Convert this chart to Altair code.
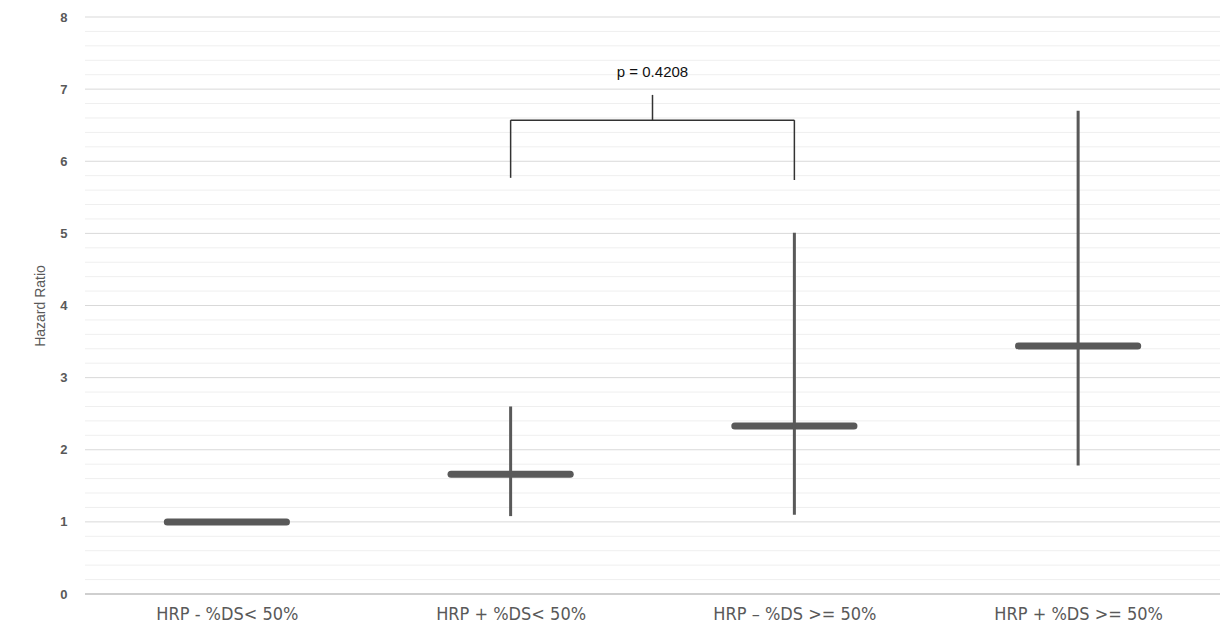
import altair as alt
import pandas as pd

categories = ["HRP - %DS< 50%", "HRP + %DS< 50%", "HRP \u2013 %DS  >= 50%", "HRP + %DS >= 50%"]
hazard_ratio = [1.0, 1.66, 2.33, 3.44]
ci_lower = [None, 1.08, 1.10, 1.78]
ci_upper = [None, 2.60, 5.01, 6.70]

# significance bracket between categories 2 and 3
bracket_from = 1
bracket_to = 2
bracket_top = 6.57
bracket_left_bottom = 5.77
bracket_right_bottom = 5.74
bracket_tick_top = 6.92
p_label = "p = 0.4208"
p_label_y = 7.24

# axis ticks / gridlines
major_ticks = [0, 1, 2, 3, 4, 5, 6, 7, 8]
minor_ticks = [i / 5 for i in range(41) if i % 5 != 0]

half = 0.21

df = pd.DataFrame({
    "cat": categories,
    "hr": hazard_ratio,
    "lo": ci_lower,
    "hi": ci_upper,
})
df["pos"] = [i + 0.5 for i in range(len(categories))]
df["x1"] = df["pos"] - half
df["x2"] = df["pos"] + half

label_map = "{" + ",".join(f"'{i + 0.5}': '{c}'" for i, c in enumerate(categories)) + "}"

x_scale = alt.Scale(domain=[0, 4], nice=False, zero=False)
y_scale = alt.Scale(domain=[0, 8], nice=False)

x_axis = alt.Axis(
    values=[i + 0.5 for i in range(len(categories))],
    labelExpr=label_map + "[toString(datum.value)]",
    grid=False, ticks=False, domain=False,
    labelFont="DejaVu Sans Condensed", labelFontSize=18, labelColor="#595959",
    labelPadding=11, title=None,
)
y_axis = alt.Axis(
    values=major_ticks,
    format="d",
    grid=False,
    ticks=False, domain=False,
    labelFont="Liberation Sans", labelFontSize=13, labelFontWeight="bold", labelColor="#595959",
    labelPadding=18,
    title="Hazard Ratio", titleFont="Liberation Sans", titleFontSize=14, titleFontWeight="normal",
    titleColor="#595959", titlePadding=12,
)


def X(field):
    return alt.X(field, type="quantitative", scale=x_scale, axis=x_axis)


def Y(field):
    return alt.Y(field, type="quantitative", scale=y_scale, axis=y_axis)


minor_grid = alt.Chart(pd.DataFrame({"y": minor_ticks})).mark_rule(color="#efefef", strokeWidth=1).encode(
    x=alt.value(0), x2=alt.value(1135), y=Y("y")
)
major_grid = alt.Chart(pd.DataFrame({"y": major_ticks[1:]})).mark_rule(color="#d9d9d9", strokeWidth=1).encode(
    x=alt.value(0), x2=alt.value(1135), y=Y("y")
)
baseline = alt.Chart(pd.DataFrame({"y": [0]})).mark_rule(color="#bfbfbf", strokeWidth=1.5).encode(
    x=alt.value(0), x2=alt.value(1135), y=Y("y")
)

base = alt.Chart(df)

horiz = base.mark_rule(color="#595959", strokeWidth=7, strokeCap="round").encode(
    x=X("x1"), x2="x2:Q", y=Y("hr"),
)

vert = base.transform_filter("datum.lo != null").mark_rule(color="#595959", strokeWidth=3).encode(
    x=X("pos"), y=Y("lo"), y2="hi:Q",
)

bx1 = bracket_from + 0.5
bx2 = bracket_to + 0.5
bmid = (bx1 + bx2) / 2
bracket_df = pd.DataFrame({
    "x": [bx1, bx1, bx2, bmid],
    "x2": [bx2, bx1, bx2, bmid],
    "y": [bracket_top, bracket_left_bottom, bracket_right_bottom, bracket_top],
    "y2": [bracket_top, bracket_top, bracket_top, bracket_tick_top],
})
bracket = alt.Chart(bracket_df).mark_rule(color="#333333", strokeWidth=1.5).encode(
    x=X("x"), x2="x2:Q", y=Y("y"), y2="y2:Q",
)

ptext = alt.Chart(pd.DataFrame({"x": [bmid], "y": [p_label_y], "t": [p_label]})).mark_text(
    font="Liberation Sans", fontSize=15, color="#111111", baseline="middle", align="center"
).encode(x=X("x"), y=Y("y"), text="t:N")

chart = alt.layer(minor_grid, major_grid, baseline, horiz, vert, bracket, ptext).properties(
    width=1135, height=577,
    autosize=alt.AutoSizeParams(type="none"),
    padding={"left": 85, "top": 17, "right": 2, "bottom": 39},
).configure(background="white").configure_view(stroke=None)

chart.save("out.html", embed_options={"renderer": "svg", "actions": False})
